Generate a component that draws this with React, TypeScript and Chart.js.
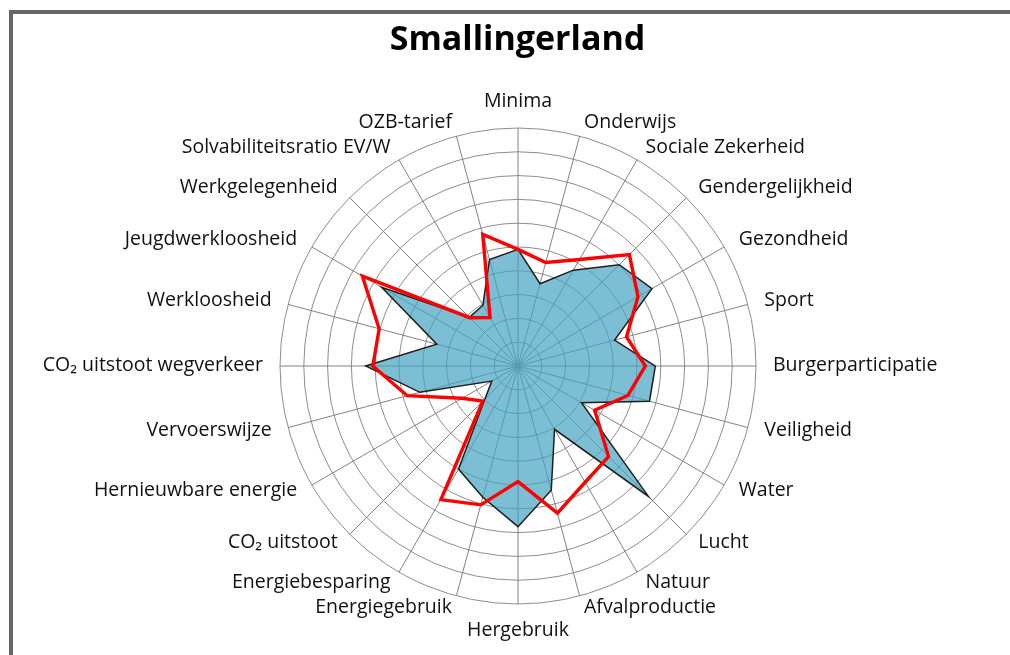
import React, { useEffect, useRef } from "react";
import { Chart, registerables } from "chart.js";

Chart.register(...registerables);

// ---- data ----
const TITLE = "Smallingerland";

const categories = [
  "Minima",
  "Onderwijs",
  "Sociale Zekerheid",
  "Gendergelijkheid",
  "Gezondheid",
  "Sport",
  "Burgerparticipatie",
  "Veiligheid",
  "Water",
  "Lucht",
  "Natuur",
  "Afvalproductie",
  "Hergebruik",
  "Energiegebruik",
  "Energiebesparing",
  "CO\u2082 uitstoot",
  "Hernieuwbare energie",
  "Vervoerswijze",
  "CO\u2082 uitstoot wegverkeer",
  "Werkloosheid",
  "Jeugdwerkloosheid",
  "Werkgelegenheid",
  "Solvabiliteitsratio EV/W",
  "OZB-tarief",
];

const smallingerland = [
  4.9, 3.58, 4.65, 6.02, 6.5, 4.2, 5.77, 5.72, 3.08, 7.75, 3.07, 5.4,
  6.75, 5.71, 5.0, 1.97, 1.27, 4.27, 6.4, 3.53, 6.62, 2.89, 2.95, 4.63,
];

const referentie = [
  4.9, 4.5, 5.17, 6.62, 5.82, 4.72, 5.35, 4.78, 3.72, 5.38, 5.64, 6.4,
  4.86, 6.04, 6.48, 2.09, 2.71, 4.82, 6.1, 6.04, 7.55, 2.87, 2.35, 5.72,
];

const SCALE_MIN = 0;
const SCALE_MAX = 10;
const SCALE_STEP = 1;

// ---- layout / style ----
const FONT = '"Open Sans", "Noto Sans", "DejaVu Sans", sans-serif';
const CENTER_X = 518;
const CENTER_Y = 366;
const RADIUS = 238;
const LABEL_GAP = 17;

const pointLabelPlugin = {
  id: "excelPointLabels",
  afterDraw(chart: any) {
    const scale = chart.scales.r;
    const ctx = chart.ctx;
    const labels = chart.data.labels as string[];
    const n = labels.length;
    ctx.save();
    ctx.font = `19.5px ${FONT}`;
    ctx.fillStyle = "#111111";
    for (let i = 0; i < n; i++) {
      const p = scale.getPointPosition(i, scale.drawingArea + LABEL_GAP);
      const a = (i / n) * Math.PI * 2;
      const s = Math.sin(a);
      const c = Math.cos(a);
      let y = p.y;
      if (Math.abs(s) < 1e-6) {
        ctx.textAlign = "center";
        ctx.textBaseline = c > 0 ? "bottom" : "top";
      } else {
        ctx.textAlign = s > 0 ? "left" : "right";
        ctx.textBaseline = "middle";
        y += -1 + 4 * c;
      }
      ctx.fillText(String(labels[i]), p.x, y);
    }
    ctx.restore();
  },
};

export default function App() {
  const canvasRef = useRef<HTMLCanvasElement | null>(null);

  useEffect(() => {
    if (!canvasRef.current) return;
    const chart = new Chart(canvasRef.current, {
      type: "radar",
      data: {
        labels: categories,
        datasets: [
          {
            label: "Referentie",
            data: referentie,
            borderColor: "#ff0000",
            borderWidth: 3.4,
            fill: false,
            pointRadius: 0,
            tension: 0,
            order: 0,
          },
          {
            label: TITLE,
            data: smallingerland,
            borderColor: "#1e1e1e",
            borderWidth: 1.5,
            backgroundColor: "rgba(68,162,194,0.7)",
            fill: "origin",
            pointRadius: 0,
            tension: 0,
            order: 1,
          },
        ],
      },
      options: {
        responsive: false,
        maintainAspectRatio: false,
        animation: false,
        devicePixelRatio: 1,
        layout: { padding: { left: 25, top: 0, right: 0, bottom: 0 } },
        plugins: {
          legend: { display: false },
          tooltip: { enabled: false },
          title: {
            display: true,
            text: TITLE,
            color: "#000000",
            font: { family: FONT, size: 34, weight: "bold" },
            padding: { top: 20, bottom: 4 },
          },
        },
        scales: {
          r: {
            min: SCALE_MIN,
            max: SCALE_MAX,
            ticks: { display: false, stepSize: SCALE_STEP },
            grid: { circular: true, color: "#8c8c8c", lineWidth: 1 },
            angleLines: { display: true, color: "#828282", lineWidth: 1 },
            pointLabels: { display: false },
            afterFit: (scale: any) => {
              scale.xCenter = CENTER_X;
              scale.yCenter = CENTER_Y;
              scale.drawingArea = RADIUS;
            },
          } as any,
        },
      },
      plugins: [pointLabelPlugin],
    });
    return () => chart.destroy();
  }, []);

  return (
    <div
      style={{
        position: "fixed",
        left: 0,
        top: 0,
        width: 1010,
        height: 655,
        background: "#ffffff",
        overflow: "hidden",
      }}
    >
      <canvas
        ref={canvasRef}
        width={1010}
        height={655}
        style={{ position: "absolute", left: 0, top: 0, width: 1010, height: 655 }}
      />
      <div
        style={{
          position: "absolute",
          left: 9,
          top: 10,
          width: 1010,
          height: 660,
          borderTop: "4px solid #676767",
          borderLeft: "4px solid #676767",
          pointerEvents: "none",
        }}
      />
    </div>
  );
}
